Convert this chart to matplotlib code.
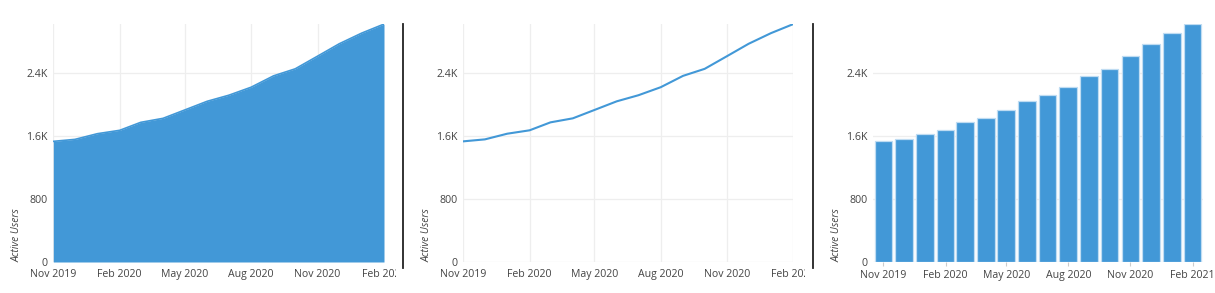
import matplotlib
matplotlib.use("Agg")
import matplotlib.pyplot as plt
import matplotlib.dates as mdates
from matplotlib.transforms import Bbox
import numpy as np
import datetime as dt

months = ["2019-11", "2019-12", "2020-01", "2020-02", "2020-03", "2020-04",
          "2020-05", "2020-06", "2020-07", "2020-08", "2020-09", "2020-10",
          "2020-11", "2020-12", "2021-01", "2021-02"]
active_users = [1531, 1556, 1628, 1671, 1772, 1823, 1929, 2039,
                2116, 2218, 2362, 2451, 2612, 2769, 2904, 3019]
ytick_values = [0, 800, 1600, 2400]
ytick_labels = ["0", "800", "1.6K", "2.4K"]
xtick_months = ["2019-11", "2020-02", "2020-05", "2020-08", "2020-11", "2021-02"]
xtick_labels = ["Nov 2019", "Feb 2020", "May 2020", "Aug 2020", "Nov 2020", "Feb 2021"]
ylabel = "Active Users"

plt.rcParams['font.family'] = ['Open Sans', 'DejaVu Sans']

dates = [dt.datetime.strptime(m, "%Y-%m") for m in months]
xt = [dt.datetime.strptime(m, "%Y-%m") for m in xtick_months]
BLUE = "#4298d7"
W, H = 1215, 293
fig = plt.figure(figsize=(W / 100, H / 100), dpi=100)

def frac(x0, y0, x1, y1):
    return [x0 / W, 1 - y1 / H, (x1 - x0) / W, (y1 - y0) / H]

ax1 = fig.add_axes(frac(53.3, 24, 384, 262))
ax2 = fig.add_axes(frac(463.3, 24, 793.3, 262))
ax3 = fig.add_axes(frac(873, 24, 1203, 262))

ax1.fill_between(dates, active_users, 0, color=BLUE, lw=0, zorder=2)
ax1.plot(dates, active_users, color=BLUE, lw=1.2, zorder=3)
ax2.plot(dates, active_users, color=BLUE, lw=1.5, zorder=3)
ax3.bar(dates, active_users, width=26.5, color=BLUE, edgecolor="#bfdcf2",
        linewidth=0.9, zorder=2)

clips = {ax1: 396, ax2: 805, ax3: W}
for ax in (ax1, ax2, ax3):
    ax.set_ylim(0, 3020)
    ax.set_yticks(ytick_values)
    ax.set_yticklabels(ytick_labels)
    ax.set_xticks(xt)
    ax.set_xticklabels(xtick_labels)
    for s in ax.spines.values():
        s.set_visible(False)
    ax.grid(True, color="#eeeeee", lw=0.9, zorder=0)
    ax.set_axisbelow(True)
    ax.tick_params(axis="y", length=0, pad=4, labelsize=7.7, labelcolor="#444444")
    ax.tick_params(axis="x", length=0, pad=5, labelsize=7.6, labelcolor="#444444")
    ax.set_ylabel(ylabel, fontsize=7.4, style="italic", color="#444444")
    ax.yaxis.set_label_coords(-0.092, 0.0)
    ax.yaxis.label.set_va("bottom")
    ax.yaxis.label.set_ha("left")
    cb = Bbox.from_extents(0, 0, clips[ax], H)
    for lab in ax.get_xticklabels():
        lab.set_clip_on(True)
        lab.set_clip_box(cb)

ax1.set_xlim(dates[0], dates[-1])
ax2.set_xlim(dates[0], dates[-1])
ax3.set_xlim(dates[0] - dt.timedelta(days=15.5), dates[-1] + dt.timedelta(days=15.5))
ax3.xaxis.grid(False)
ax3.tick_params(axis="x", length=3, color="#cccccc", pad=3)

for xs in (403, 812.5):
    fig.add_artist(plt.Line2D([xs / W, xs / W], [1 - 268 / H, 1 - 24 / H],
                              color="#222222", lw=1.3))

fig.savefig("out.png", dpi=100)
